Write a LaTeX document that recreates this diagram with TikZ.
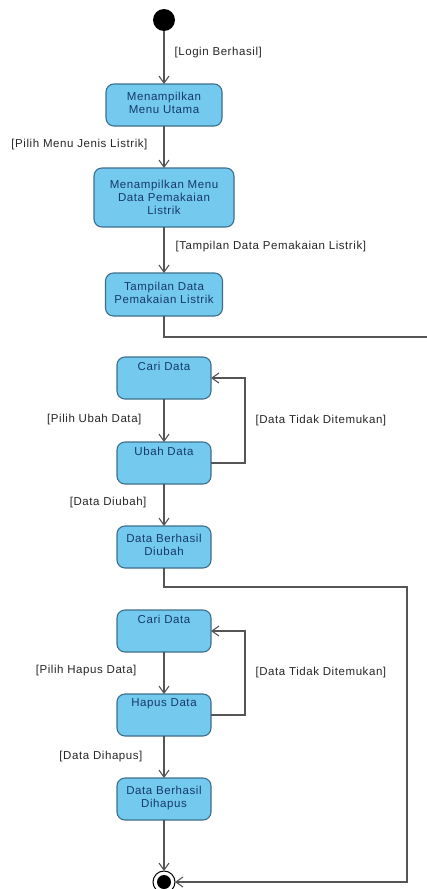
\documentclass[tikz,border=0pt]{standalone}
\usepackage{fontspec}
\setmainfont{Liberation Sans}[LetterSpace=5]
\usetikzlibrary{arrows.meta,positioning}

\definecolor{aktfill}{HTML}{73C9EE}
\definecolor{aktborder}{HTML}{3D6F8C}
\definecolor{akttext}{HTML}{17396B}
\definecolor{alurline}{HTML}{555555}

\begin{document}
\begin{tikzpicture}[
  x=1pt, y=-1pt,
  >={Straight Barb[length=7pt,width=10pt]},
  every node/.style={font=\fontsize{11.5}{13}\selectfont},
  aktivitas/.style={draw=aktborder, fill=aktfill, rounded corners=8pt,
    line width=1.1pt, text=akttext, align=center, inner sep=2pt, outer sep=0pt,
    minimum width=94pt, minimum height=42pt},
  alur/.style={->, draw=alurline, line width=1.1pt},
  syarat/.style={inner sep=0pt, text=black!85}
]
  \useasboundingbox (0,0) rectangle (427,889);

  % Start
  \node (mulai) [circle, fill=black, minimum size=22pt, inner sep=0pt, outer sep=0pt] at (164,20) {};

  % Tampilan awal
  \node (menu) [aktivitas, below=53pt of mulai, minimum width=116pt, text depth=5pt] {Menampilkan\\Menu Utama};
  \node (jenis) [aktivitas, below=42pt of menu, minimum width=140pt, minimum height=59pt] {Menampilkan Menu\\Data Pemakaian\\Listrik};
  \node (tampil) [aktivitas, below=46pt of jenis, minimum width=117pt, minimum height=43pt, text depth=4pt] {Tampilan Data\\Pemakaian Listrik};

  % Ubah data
  \node (cari1) [aktivitas, below=41pt of tampil, text depth=24pt] {Cari Data};
  \node (ubah) [aktivitas, below=43pt of cari1, text depth=24pt] {Ubah Data};
  \node (diubah) [aktivitas, below=42pt of ubah, text depth=4pt] {Data Berhasil\\Diubah};

  % Hapus data
  \node (cari2) [aktivitas, below=42pt of diubah, text depth=24pt] {Cari Data};
  \node (hapus) [aktivitas, below=42pt of cari2, text depth=24pt] {Hapus Data};
  \node (dihapus) [aktivitas, below=42pt of hapus, text depth=4pt] {Data Berhasil\\Dihapus};

  % End
  \node (akhir) [circle, draw=black, line width=1pt, minimum size=22pt, inner sep=0pt, outer sep=0pt, below=51pt of dihapus] {};
  \node (akhirdalam) [circle, fill=black, minimum size=14pt, inner sep=0pt] at (akhir.center) {};

  % Arrows
  \draw[alur] (mulai) -- node[syarat, pos=.4, right=10pt] (login) {[Login Berhasil]} (menu);
  \draw[alur] (menu) -- node[syarat, pos=.45, left=16pt] (pilihmenu) {[Pilih Menu Jenis Listrik]} (jenis);
  \draw[alur] (jenis) -- node[syarat, pos=.42, right=11pt] (tampildata) {[Tampilan Data Pemakaian Listrik]} (tampil);
  \coordinate (tepi) at (427,337);
  \draw[alurline, line width=1.1pt] (tampil.south) |- (tepi);

  \draw[alur] (cari1) -- node[syarat, pos=.47, left=22pt] (pilihubah) {[Pilih Ubah Data]} (ubah);
  \draw[alur] (ubah.east) -- ++(34,0) |- node[syarat, pos=.25, right=10pt] (tidak1) {[Data Tidak Ditemukan]} (cari1.east);
  \draw[alur] (ubah) -- node[syarat, pos=.45, left=17pt] (lubah) {[Data Diubah]} (diubah);
  \coordinate (belok) at (407,587);
  \draw[alur] (diubah.south) |- (belok) |- (akhir.east);

  \draw[alur] (cari2) -- node[syarat, pos=.45, left=27pt] (pilihhapus) {[Pilih Hapus Data]} (hapus);
  \draw[alur] (hapus.east) -- ++(34,0) |- node[syarat, pos=.25, right=10pt] (tidak2) {[Data Tidak Ditemukan]} (cari2.east);
  \draw[alur] (hapus) -- node[syarat, pos=.48, left=21pt] (lhapus) {[Data Dihapus]} (dihapus);
  \draw[alur] (dihapus) -- (akhir);
\end{tikzpicture}
\end{document}
